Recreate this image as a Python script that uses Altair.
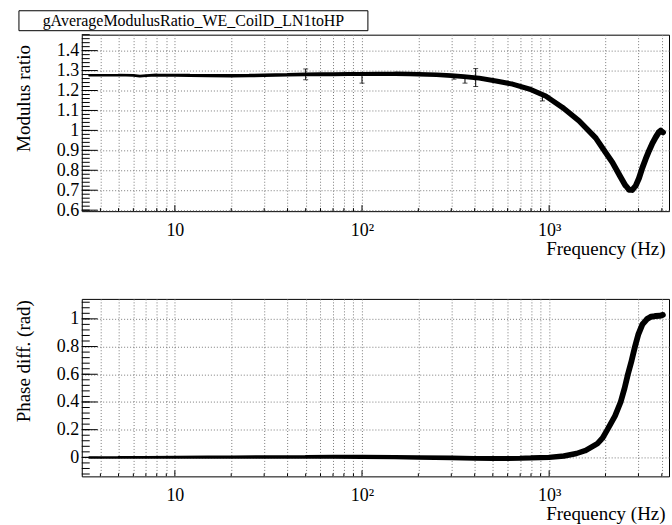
import altair as alt
import pandas as pd

FONT = "Liberation Serif"
W = 589          # frame width
H_TOP = 177      # frame height, modulus panel
H_BOT = 178      # frame height, phase panel

TITLE = "gAverageModulusRatio_WE_CoilD_LN1toHP"

# Averaged modulus ratio vs frequency
mod_freq = [3.5, 4, 5, 6, 6.5, 7, 8, 10, 12, 15, 20, 25, 30, 40, 50, 60, 70, 85,
            100, 120, 150, 180, 200, 250, 300, 350, 423, 520, 637, 782, 960, 1178,
            1445, 1774, 2000, 2177, 2411, 2550, 2671, 2780, 2899, 3020, 3147, 3280,
            3415, 3560, 3706, 3850, 3941, 4055]
mod_ratio = [1.276, 1.277, 1.278, 1.276, 1.272, 1.275, 1.278, 1.277, 1.276, 1.275,
             1.274, 1.275, 1.277, 1.279, 1.281, 1.282, 1.282, 1.283, 1.283, 1.284,
             1.284, 1.283, 1.282, 1.279, 1.275, 1.270, 1.262, 1.248, 1.232, 1.208,
             1.172, 1.115, 1.048, 0.962, 0.890, 0.840, 0.765, 0.725, 0.703, 0.702,
             0.722, 0.760, 0.812, 0.857, 0.897, 0.935, 0.965, 0.990, 0.998, 0.990]

# A few points with visible error bars (low / high)
err_freq = [50, 100, 310, 355, 405, 920]
err_low = [1.254, 1.237, 1.257, 1.237, 1.220, 1.148]
err_high = [1.308, 1.282, 1.280, 1.270, 1.310, 1.184]

# Phase difference vs frequency
ph_freq = [3.5, 5, 7, 10, 15, 20, 30, 50, 70, 100, 150, 200, 300, 400, 500, 600,
           700, 800, 1000, 1200, 1400, 1570, 1811, 1930, 2048, 2250, 2411, 2530,
           2636, 2760, 2876, 3000, 3150, 3343, 3500, 3700, 3900, 4050]
ph_diff = [0.000, 0.001, 0.000, 0.001, 0.002, 0.002, 0.003, 0.004, 0.004, 0.004,
           0.002, 0.000, -0.004, -0.007, -0.008, -0.008, -0.006, -0.004, 0.000,
           0.010, 0.028, 0.050, 0.100, 0.140, 0.200, 0.300, 0.400, 0.500, 0.600,
           0.700, 0.800, 0.890, 0.960, 1.000, 1.015, 1.020, 1.022, 1.028]

# Axis ticks
decades = [10, 100, 1000]
minor_freq = [4, 5, 6, 7, 8, 9, 20, 30, 40, 50, 60, 70, 80, 90,
              200, 300, 400, 500, 600, 700, 800, 900, 2000, 3000, 4000]
grid_freq = sorted(decades + minor_freq)
mod_major = [0.6, 0.7, 0.8, 0.9, 1.0, 1.1, 1.2, 1.3, 1.4]
mod_minor = [round(0.6 + 0.02 * i, 2) for i in range(45)]
ph_major = [0.0, 0.2, 0.4, 0.6, 0.8, 1.0]
ph_minor = [round(-0.12 + 0.04 * i, 2) for i in range(32)]

x_scale = alt.Scale(type="log", domain=[3.18, 4370], nice=False)
mod_scale = alt.Scale(domain=[0.595, 1.48], nice=False, zero=False)
ph_scale = alt.Scale(domain=[-0.137, 1.144], nice=False, zero=False)

label_expr_x = ("datum.value == 10 ? '10' : datum.value == 100 ? '10\u00b2' : "
                "datum.value == 1000 ? '10\u00b3' : ''")

X_AXIS = alt.Axis(values=grid_freq, labelExpr=label_expr_x, grid=True,
                  gridDash=[1, 2], gridColor="#7a7a7a", gridWidth=1,
                  ticks=False, tickSize=0, domain=False,
                  labelFont=FONT, labelFontSize=18, labelColor="black",
                  labelPadding=19, labelBaseline="middle", labelFlush=False,
                  labelOverlap=False, labelBound=False,
                  title="Frequency (Hz)", titleFont=FONT, titleFontSize=19,
                  titleFontWeight="normal", titleColor="black",
                  titleX=585, titleY=37, titleAlign="right",
                  titleBaseline="middle", titleAngle=0)


def value_axis(values, title, title_y):
    return alt.Axis(values=values, labelExpr="format(datum.value, '.1~f')",
                    grid=True, gridDash=[1, 2], gridColor="#7a7a7a", gridWidth=1,
                    ticks=False, tickSize=0, domain=False,
                    labelFont=FONT, labelFontSize=18, labelColor="black",
                    labelPadding=3, labelBaseline="middle", labelFlush=False,
                    labelOverlap=False, labelBound=False,
                    title=title, titleFont=FONT, titleFontSize=19,
                    titleFontWeight="normal", titleColor="black",
                    titleX=-58, titleY=title_y, titleAngle=270,
                    titleAlign="center", titleBaseline="middle")


MOD_AXIS = value_axis(mod_major, "Modulus ratio", 63.5)
PH_AXIS = value_axis(ph_major, "Phase diff. (rad)", 62)


def tick_layers(y_scale, y_axis, major, minor, height):
    # inward ticks along the left and bottom edges of the frame
    y_major = alt.Chart(pd.DataFrame({"v": major})).mark_rule(
        color="black", strokeWidth=1).encode(
        y=alt.Y("v:Q", scale=y_scale, axis=y_axis),
        x=alt.value(0), x2=alt.value(16))
    y_minor = alt.Chart(pd.DataFrame({"v": minor})).mark_rule(
        color="black", strokeWidth=1).encode(
        y=alt.Y("v:Q", scale=y_scale, axis=y_axis),
        x=alt.value(0), x2=alt.value(8))
    x_major = alt.Chart(pd.DataFrame({"f": decades})).mark_rule(
        color="black", strokeWidth=1).encode(
        x=alt.X("f:Q", scale=x_scale, axis=X_AXIS),
        y=alt.value(height), y2=alt.value(height - 6))
    x_minor = alt.Chart(pd.DataFrame({"f": minor_freq})).mark_rule(
        color="black", strokeWidth=1).encode(
        x=alt.X("f:Q", scale=x_scale, axis=X_AXIS),
        y=alt.value(height), y2=alt.value(height - 3))
    return [y_major, y_minor, x_major, x_minor]


size_scale = alt.Scale(type="log", domain=[3.5, 4000], range=[2.5, 6])

# ---- modulus ratio panel ----
mod_df = pd.DataFrame({"f": mod_freq, "r": mod_ratio})
mod_curve = alt.Chart(mod_df).mark_trail(color="black").encode(
    x=alt.X("f:Q", scale=x_scale, axis=X_AXIS),
    y=alt.Y("r:Q", scale=mod_scale, axis=MOD_AXIS),
    size=alt.Size("f:Q", scale=size_scale, legend=None),
)

err_df = pd.DataFrame({"f": err_freq, "lo": err_low, "hi": err_high})
err_bars = alt.Chart(err_df).mark_rule(color="black", strokeWidth=1).encode(
    x=alt.X("f:Q", scale=x_scale, axis=X_AXIS),
    y=alt.Y("lo:Q", scale=mod_scale, axis=MOD_AXIS),
    y2="hi:Q",
)
err_cap_lo = alt.Chart(err_df).mark_tick(
    color="black", orient="horizontal", size=5, thickness=1).encode(
    x=alt.X("f:Q", scale=x_scale, axis=X_AXIS),
    y=alt.Y("lo:Q", scale=mod_scale, axis=MOD_AXIS),
)
err_cap_hi = alt.Chart(err_df).mark_tick(
    color="black", orient="horizontal", size=5, thickness=1).encode(
    x=alt.X("f:Q", scale=x_scale, axis=X_AXIS),
    y=alt.Y("hi:Q", scale=mod_scale, axis=MOD_AXIS),
)

title_df = pd.DataFrame({"t": [TITLE]})
title_box = alt.Chart(title_df).mark_rect(
    fill="white", stroke="black", strokeWidth=1).encode(
    x=alt.value(-63), x2=alt.value(287), y=alt.value(-24), y2=alt.value(-4))
title_text = alt.Chart(title_df).mark_text(
    font=FONT, fontSize=16, color="black", align="center",
    baseline="middle").encode(
    text="t:N", x=alt.value(112), y=alt.value(-14))

# keeps the whole page extent fixed around the frames
page_top = alt.Chart(title_df).mark_rect(opacity=0).encode(
    x=alt.value(-81), x2=alt.value(591), y=alt.value(-33), y2=alt.value(0))

top = alt.layer(
    mod_curve, err_bars, err_cap_lo, err_cap_hi,
    *tick_layers(mod_scale, MOD_AXIS, mod_major, mod_minor, H_TOP),
    title_box, title_text, page_top,
).properties(width=W, height=H_TOP)

# ---- phase difference panel ----
ph_df = pd.DataFrame({"f": ph_freq, "p": ph_diff})
ph_curve = alt.Chart(ph_df).mark_trail(color="black").encode(
    x=alt.X("f:Q", scale=x_scale, axis=X_AXIS),
    y=alt.Y("p:Q", scale=ph_scale, axis=PH_AXIS),
    size=alt.Size("f:Q", scale=size_scale, legend=None),
)

page_bot = alt.Chart(title_df).mark_rect(opacity=0).encode(
    x=alt.value(-81), x2=alt.value(591), y=alt.value(H_BOT), y2=alt.value(227))

bottom = alt.layer(
    ph_curve,
    *tick_layers(ph_scale, PH_AXIS, ph_major, ph_minor, H_BOT),
    page_bot,
).properties(width=W, height=H_BOT)

chart = alt.vconcat(top, bottom, spacing=88, bounds="flush").properties(
    padding=0, background="white"
).configure_view(
    stroke="black", strokeWidth=1, fill="white"
).configure_axis(
    labelOverlap=False, labelSeparation=0
)

chart.save("out.html", embed_options={"renderer": "svg", "actions": False})
